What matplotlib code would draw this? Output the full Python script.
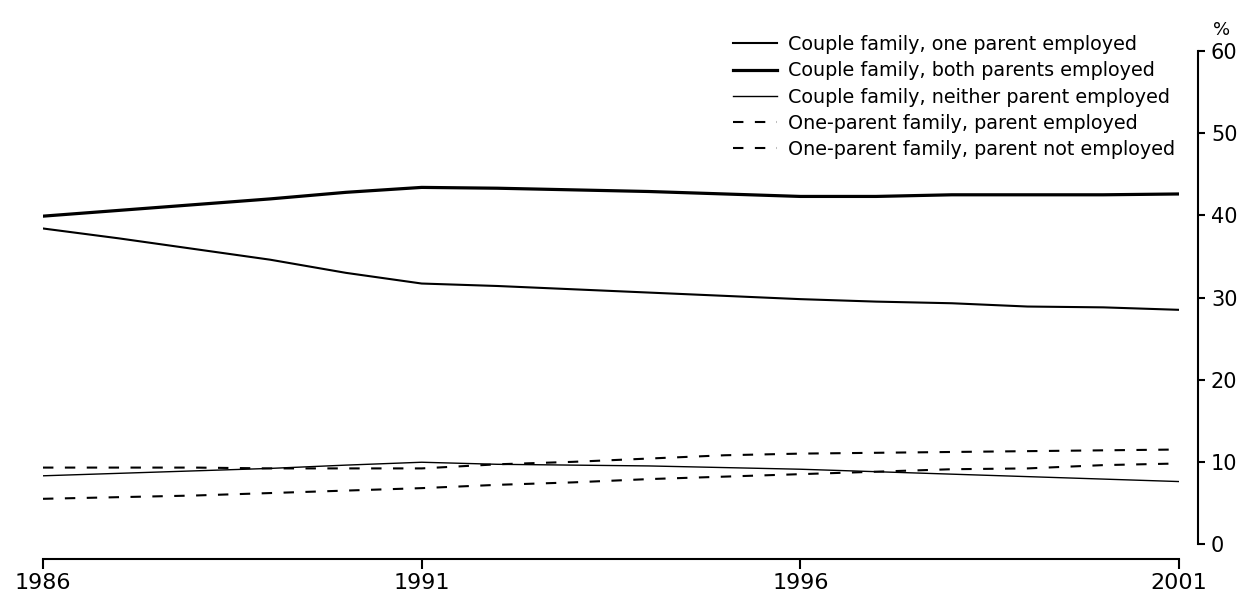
import numpy as np
import matplotlib
matplotlib.use('Agg')
import matplotlib.pyplot as plt

# data (per cent of families with children)
years = np.arange(1986, 2002)
one_emp = [38.4, 37.2, 35.9, 34.6, 33.0, 31.7, 31.4, 31.0, 30.6, 30.2, 29.8, 29.5, 29.3, 28.9, 28.8, 28.5]
both_emp = [39.9, 40.6, 41.3, 42.0, 42.8, 43.4, 43.3, 43.1, 42.9, 42.6, 42.3, 42.3, 42.5, 42.5, 42.5, 42.6]
neither_emp = [8.3, 8.6, 8.9, 9.2, 9.6, 9.95, 9.7, 9.6, 9.5, 9.3, 9.1, 8.8, 8.5, 8.2, 7.9, 7.6]
lone_emp = [5.5, 5.7, 5.9, 6.2, 6.5, 6.8, 7.2, 7.5, 7.9, 8.2, 8.5, 8.8, 9.1, 9.2, 9.6, 9.8]
lone_notemp = [9.3, 9.3, 9.3, 9.2, 9.2, 9.2, 9.7, 10.0, 10.4, 10.8, 11.0, 11.1, 11.2, 11.3, 11.4, 11.5]

labels = ['Couple family, one parent employed',
          'Couple family, both parents employed',
          'Couple family, neither parent employed',
          'One-parent family, parent employed',
          'One-parent family, parent not employed']

plt.rcParams['font.family'] = ['DejaVu Sans']

W, H = 1253, 594
fig = plt.figure(figsize=(W/100., H/100.), dpi=100)
ax = fig.add_axes([43./W, 1-544./H, (1179-43.)/W, (544-51.)/H])

dash = (0, (5, 5.5))
ax.plot(years, one_emp, color='black', lw=1.5, label=labels[0])
ax.plot(years, both_emp, color='black', lw=2.3, label=labels[1])
ax.plot(years, neither_emp, color='black', lw=1.0, label=labels[2])
ax.plot(years, lone_emp, color='black', lw=1.5, linestyle=dash, label=labels[3])
ax.plot(years, lone_notemp, color='black', lw=1.5, linestyle=dash, label=labels[4])

ax.set_xlim(1986, 2001)
ax.set_ylim(0, 60)
ax.set_xticks([1986, 1991, 1996, 2001])
ax.set_yticks(np.arange(0, 61, 10))

ax.spines['top'].set_visible(False)
ax.spines['left'].set_visible(False)
ax.spines['right'].set_position(('outward', 14))
ax.spines['bottom'].set_position(('outward', 11))
ax.spines['right'].set_linewidth(1.5)
ax.spines['bottom'].set_linewidth(1.5)
ax.yaxis.tick_right()
ax.tick_params(axis='y', direction='out', length=5, width=1.5, labelsize=15, pad=4)
ax.tick_params(axis='x', direction='out', length=7, width=1.5, labelsize=16, pad=3)

fig.text(1213./W, 1-30./H, '%', fontsize=13, ha='left', va='center')

leg = ax.legend(loc='upper left', bbox_to_anchor=(733./W, 1-35./H),
                bbox_transform=fig.transFigure, frameon=False, fontsize=13.8,
                handlelength=2.3, handletextpad=0.55, labelspacing=0.38,
                borderpad=0, borderaxespad=0)

fig.savefig('out.png', dpi=100)
